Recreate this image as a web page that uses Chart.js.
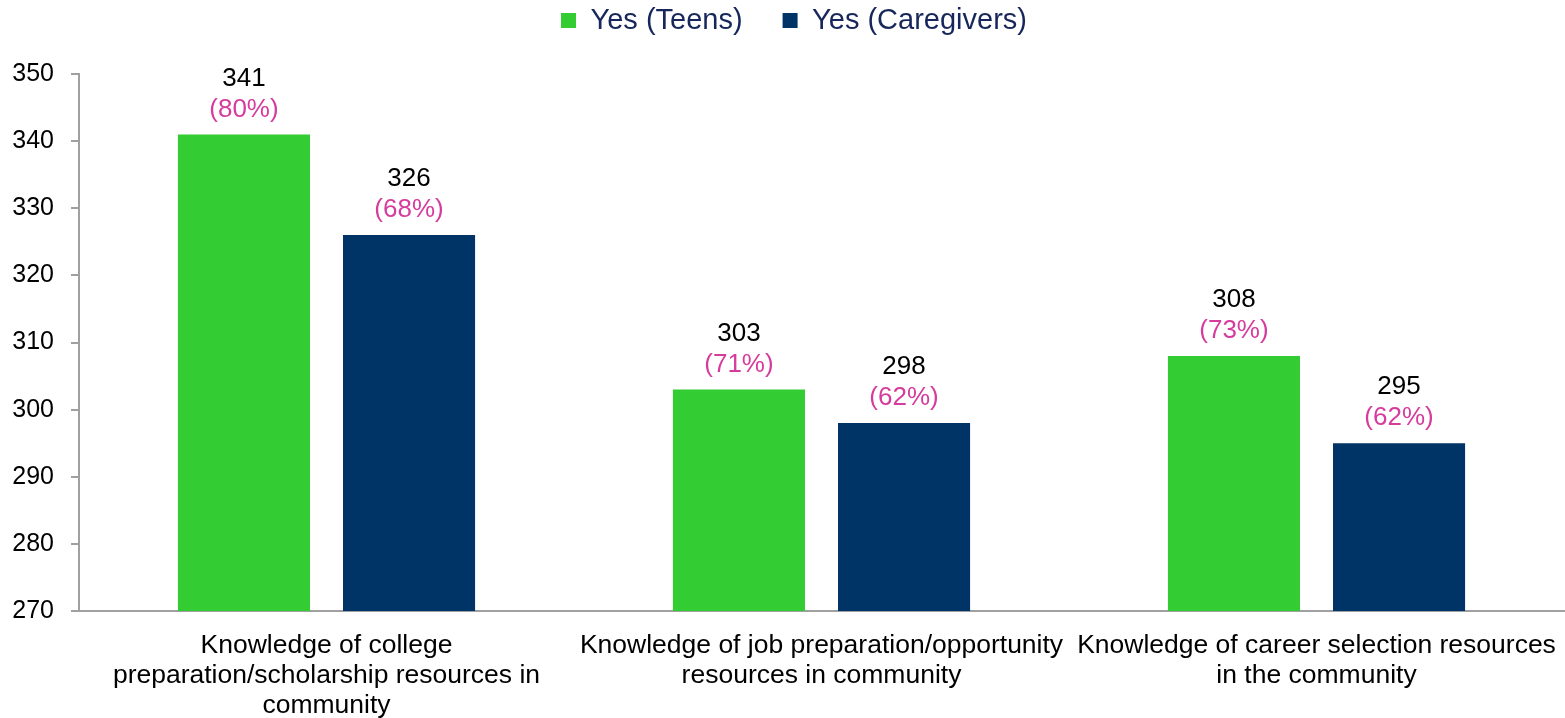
<!DOCTYPE html>
<html>
<head>
<meta charset="utf-8">
<script src="https://cdn.jsdelivr.net/npm/chart.js@4.4.0/dist/chart.umd.min.js"></script>
<style>
  html, body { margin: 0; padding: 0; background: #fff; }
</style>
</head>
<body>
<canvas id="result" width="1565" height="718"></canvas>
<script>
// categories (each an array of label lines)
var categories = [
    ["Knowledge of college", "preparation/scholarship resources in", "community"],
    ["Knowledge of job preparation/opportunity", "resources in community"],
    ["Knowledge of career selection resources", "in the community"]
];
var teens = [341, 303, 308];
var caregivers = [326, 298, 295];
var teensPct = ["(80%)", "(71%)", "(73%)"];
var caregiversPct = ["(68%)", "(62%)", "(62%)"];
var yTicks = [270, 280, 290, 300, 310, 320, 330, 340, 350];

var FONT = "Arial, 'Liberation Sans', sans-serif";
var pctLabels = [teensPct, caregiversPct];

// draws "value" + "(pct)" above each bar
var barLabels = {
    id: 'barLabels',
    afterDatasetsDraw: function(chart) {
        var ctx = chart.ctx;
        ctx.save();
        ctx.font = "26px " + FONT;
        ctx.textAlign = "center";
        ctx.textBaseline = "middle";
        chart.data.datasets.forEach(function(ds, di) {
            chart.getDatasetMeta(di).data.forEach(function(bar, i) {
                ctx.fillStyle = "#d63c9d";
                ctx.fillText(pctLabels[di][i], bar.x, bar.y - 25);
                ctx.fillStyle = "#000";
                ctx.fillText(ds.data[i], bar.x, bar.y - 56);
            });
        });
        ctx.restore();
    }
};

// legend takes the whole strip above the plot, but its items sit near the top
var legendBox = {
    id: 'legendBox',
    beforeInit: function(chart) {
        var legend = chart.legend;
        var fit = legend.fit;
        legend.fit = function() {
            fit.bind(legend)();
            this.height = 74;
        };
        var draw = legend.draw;
        legend.draw = function() {
            var c = chart.ctx;
            c.save();
            c.translate(12, -34);
            draw.bind(legend)();
            c.restore();
        };
    }
};

var ctx = document.getElementById("result").getContext("2d");
var chart = new Chart(ctx, {
    type: 'bar',
    data: {
        labels: categories,
        datasets: [{
            label: "Yes (Teens)",
            data: teens,
            backgroundColor: "#33cc33"
        }, {
            label: "Yes (Caregivers)",
            data: caregivers,
            backgroundColor: "#003366"
        }]
    },
    options: {
        responsive: false,
        animation: false,
        categoryPercentage: 0.667,
        barPercentage: 0.8,
        layout: { padding: { top: 0, right: 1, left: 0, bottom: 0 } },
        plugins: {
            legend: {
                position: 'top',
                labels: {
                    boxWidth: 15,
                    boxHeight: 15,
                    padding: 40,
                    color: "#17275b",
                    font: { family: FONT, size: 29 }
                }
            },
            tooltip: { enabled: false }
        },
        scales: {
            x: {
                afterFit: function(scale) {
                    scale.height = 107;
                    scale.paddingLeft = 0;
                    scale.paddingRight = 0;
                },
                grid: { display: false },
                border: { display: true, color: "#a0a0a0", width: 2 },
                ticks: {
                    color: "#000",
                    maxRotation: 0,
                    autoSkip: false,
                    padding: 12,
                    font: { family: FONT, size: 26.5, lineHeight: 1.13 }
                }
            },
            y: {
                min: yTicks[0],
                max: yTicks[yTicks.length - 1],
                afterBuildTicks: function(scale) {
                    scale.ticks = yTicks.map(function(v) { return { value: v }; });
                },
                afterFit: function(scale) { scale.width = 79; },
                grid: {
                    display: true,
                    drawOnChartArea: false,
                    drawTicks: true,
                    tickLength: 8,
                    color: "#a0a0a0",
                    lineWidth: 2
                },
                border: { display: true, color: "#a0a0a0", width: 2 },
                ticks: {
                    color: "#000",
                    padding: 17,
                    font: { family: FONT, size: 25 }
                }
            }
        }
    },
    plugins: [barLabels, legendBox]
});
</script>
</body>
</html>
